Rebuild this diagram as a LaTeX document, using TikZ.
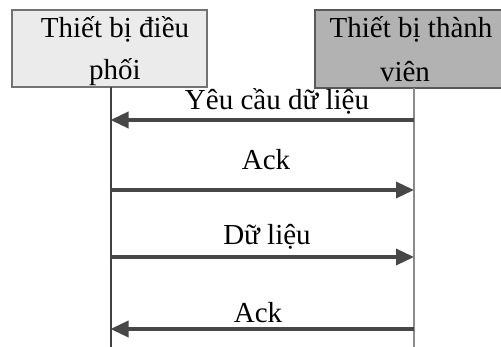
\documentclass[tikz,border=0pt]{standalone}
\usepackage{fontspec}
\setmainfont{Liberation Serif}
\usetikzlibrary{arrows.meta}
\begin{document}
\begin{tikzpicture}[x=1pt,y=-1pt,
  txt/.style={anchor=base,inner sep=0pt,font=\fontsize{29}{34}\selectfont},
  msg/.style={line width=3.5pt,draw=black!72,-{Triangle[length=18pt,width=16pt]}},
  boxA/.style={draw=black!55,line width=1.2pt,fill=black!8,minimum width=195pt,minimum height=77pt,inner sep=0pt},
  boxB/.style={draw=black!65,line width=1.2pt,fill=black!30,minimum width=190pt,minimum height=78pt,inner sep=0pt}]
\useasboundingbox (0,0) rectangle (501,347);
\begin{scope}
\clip (0,0) rectangle (501,347);
\node[boxA] (coord) at (109.5,48.5) {};
\node[boxB] (member) at (410,49) {};
\end{scope}
\node[txt] (c1) at (115,38) {Thiết bị điều};
\node[txt] (c2) at (115,80) {phối};
\node[txt] (m1) at (411,38) {Thiết bị thành};
\node[txt] (m2) at (405,82) {viên};
% lifelines
\coordinate (Ltop) at (110.5,87);
\coordinate (Lbot) at (110.5,347);
\coordinate (Rtop) at (414,88);
\coordinate (Rbot) at (414,347);
\draw[line width=2pt,black!75] (Ltop) -- (Lbot);
\draw[line width=1.6pt,black!45] (Rtop) -- (Rbot);
% messages
\coordinate (r1) at (414,120); \coordinate (l1) at (110.5,120);
\coordinate (l2) at (110.5,190); \coordinate (r2) at (414,190);
\coordinate (l3) at (110.5,257); \coordinate (r3) at (414,257);
\coordinate (r4) at (414,329); \coordinate (l4) at (110.5,329);
\draw[msg] (r1) -- (l1);
\draw[msg] (l2) -- (r2);
\draw[msg] (l3) -- (r3);
\draw[msg] (r4) -- (l4);
\node[txt] (t1) at (277,110) {Yêu cầu dữ liệu};
\node[txt] (t2) at (266,170) {Ack};
\node[txt] (t3) at (267,245) {Dữ liệu};
\node[txt] (t4) at (258,323) {Ack};
\end{tikzpicture}
\end{document}
